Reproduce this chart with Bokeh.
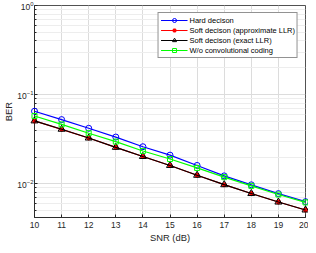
from bokeh.plotting import figure
from bokeh.models import Range1d, FixedTicker, Legend, LegendItem, LogTickFormatter
from bokeh.embed import file_html
from bokeh.resources import INLINE

# ---- data ----
snr_db = [10, 11, 12, 13, 14, 15, 16, 17, 18, 19, 20]
ber_hard = [0.0653, 0.0526, 0.0420, 0.0335, 0.0261, 0.0210, 0.0161, 0.0123, 0.00976, 0.00778, 0.00632]
ber_soft_approx = [0.0508, 0.0409, 0.0327, 0.0257, 0.0203, 0.0161, 0.0125, 0.0098, 0.0078, 0.00626, 0.0051]
ber_soft_exact = [0.0509, 0.0410, 0.0327, 0.0257, 0.0203, 0.0161, 0.0125, 0.0098, 0.0078, 0.00626, 0.0051]
ber_uncoded = [0.0577, 0.0464, 0.0370, 0.0298, 0.0234, 0.0190, 0.0151, 0.0119, 0.0095, 0.0076, 0.0062]

series_names = ["Hard decison", "Soft decison (approximate LLR)",
                "Soft decison (exact LLR)", "W/o convolutional coding"]
x_ticks = [10, 11, 12, 13, 14, 15, 16, 17, 18, 19, 20]
y_ticks = [0.01, 0.1, 1.0]
y_minor = [m * d for d in [0.001, 0.01, 0.1] for m in range(2, 10)]
x_lim = (10, 20)
y_lim = (0.0042, 1.0)

FONT = "Liberation Sans"
AX = "#262626"

p = figure(width=308, height=245, x_range=Range1d(*x_lim), y_range=Range1d(*y_lim),
           y_axis_type="log", output_backend="svg", toolbar_location=None,
           min_border_left=0, min_border_right=3, min_border_top=5, min_border_bottom=0,
           background_fill_color="white", border_fill_color="white")
p.outline_line_color = AX
p.outline_line_width = 0.8

# axes
xa = p.xaxis[0]
xa.ticker = FixedTicker(ticks=x_ticks)
ya = p.yaxis[0]
ya.ticker = FixedTicker(ticks=y_ticks, minor_ticks=y_minor)
ya.formatter = LogTickFormatter()
for ax in (xa, ya):
    ax.axis_line_color = AX
    ax.axis_line_width = 0.8
    ax.major_tick_line_color = AX
    ax.minor_tick_line_color = AX
    ax.major_tick_in = 3
    ax.major_tick_out = 0
    ax.minor_tick_in = 2
    ax.minor_tick_out = 0
    ax.major_label_text_font = FONT
    ax.major_label_text_font_size = "8.5px"
    ax.major_label_text_color = AX
    ax.axis_label_text_font = FONT
    ax.axis_label_text_font_size = "9.4px"
    ax.axis_label_text_font_style = "normal"
    ax.axis_label_text_color = AX
xa.minor_tick_in = 0
xa.axis_label = "SNR (dB)"
xa.major_label_standoff = 4
xa.axis_label_standoff = 1
ya.axis_label = "BER"
ya.major_label_standoff = 1
ya.axis_label_standoff = 0

# grid
p.xgrid.grid_line_color = "#dcdcdc"
p.ygrid.grid_line_color = "#dcdcdc"
p.ygrid.minor_grid_line_color = "#ededed"
p.xgrid.ticker = FixedTicker(ticks=x_ticks)
p.ygrid.ticker = FixedTicker(ticks=y_ticks, minor_ticks=y_minor)

LW = 1.2
MW = 1.0
items = []
l1 = p.line(snr_db, ber_hard, line_color="#0000ff", line_width=LW, level="overlay")
s1 = p.scatter(snr_db, ber_hard, marker="circle", size=6, line_color="#0000ff",
               fill_color=None, line_width=MW, level="overlay")
items.append(LegendItem(label=series_names[0], renderers=[l1, s1]))
l2 = p.line(snr_db, ber_soft_approx, line_color="#ff0000", line_width=LW, level="overlay")
s2 = p.scatter(snr_db, ber_soft_approx, marker="asterisk", size=5, line_color="#ff0000",
               line_width=1.4, level="overlay")
items.append(LegendItem(label=series_names[1], renderers=[l2, s2]))
l3 = p.line(snr_db, ber_soft_exact, line_color="#000000", line_width=LW, level="overlay")
s3 = p.scatter(snr_db, ber_soft_exact, marker="triangle", size=7, line_color="#000000",
               fill_color=None, line_width=MW, level="overlay")
items.append(LegendItem(label=series_names[2], renderers=[l3, s3]))
l4 = p.line(snr_db, ber_uncoded, line_color="#00ff00", line_width=LW, level="overlay")
s4 = p.scatter(snr_db, ber_uncoded, marker="square", size=5, line_color="#00ff00",
               fill_color=None, line_width=MW, level="overlay")
items.append(LegendItem(label=series_names[3], renderers=[l4, s4]))

legend = Legend(items=items, location="top_right", margin=7,
                label_text_font=FONT, label_text_font_size="7.5px", label_text_color="#000000",
                glyph_width=27, glyph_height=10, label_height=10, label_standoff=2,
                spacing=0, padding=2, border_line_color=AX, border_line_width=0.8,
                background_fill_color="white", background_fill_alpha=1.0)
p.add_layout(legend)

open("out.html", "w").write(file_html(p, INLINE))
